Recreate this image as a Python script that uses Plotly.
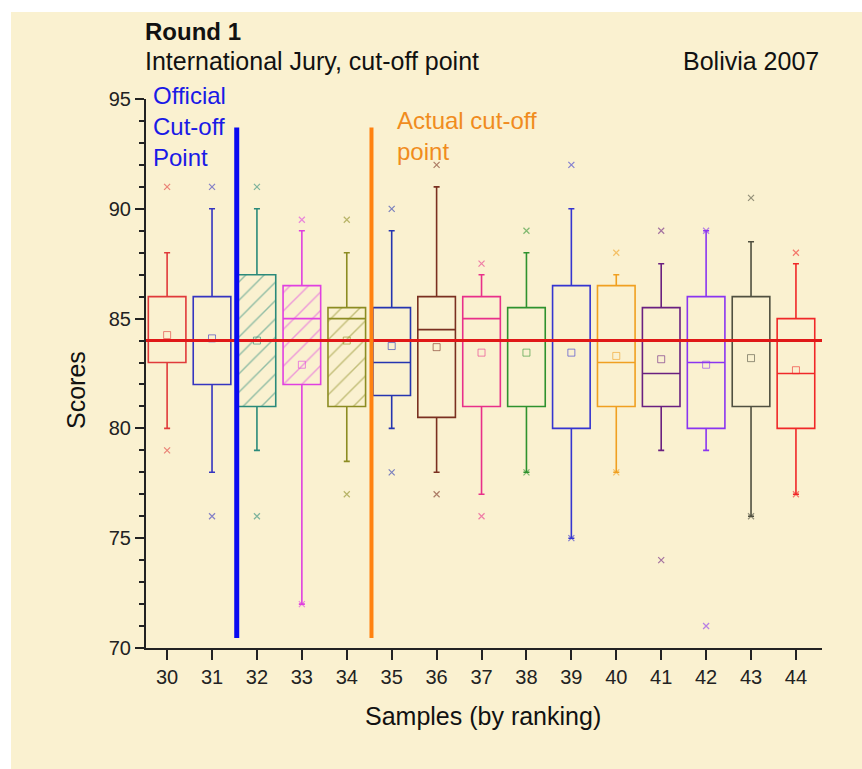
import plotly.graph_objects as go

# ---------------- data ----------------
samples = [30, 31, 32, 33, 34, 35, 36, 37, 38, 39, 40, 41, 42, 43, 44]
q1 = [83, 82, 81, 82, 81, 81.5, 80.5, 81, 81, 80, 81, 81, 80, 81, 80]
median = [84, 84, 84, 85, 85, 83, 84.5, 85, 84, 84, 83, 82.5, 83, 84, 82.5]
q3 = [86, 86, 87, 86.5, 85.5, 85.5, 86, 86, 85.5, 86.5, 86.5, 85.5, 86, 86, 85]
whisker_low = [80, 78, 79, 72, 78.5, 80, 78, 77, 78, 75, 78, 79, 79, 76, 77]
whisker_high = [88, 90, 90, 89, 88, 89, 91, 87, 88, 90, 87, 87.5, 89, 88.5, 87.5]
means = [84.25, 84.1, 84.0, 82.9, 84.0, 83.75, 83.7, 83.45, 83.45, 83.45, 83.3, 83.15, 82.9, 83.2, 82.65]
max_scores = [91, 91, 91, 89.5, 89.5, 90, 92, 87.5, 89, 92, 88, 89, 89, 90.5, 88]
min_scores = [79, 76, 76, 72, 77, 78, 77, 76, 78, 75, 78, 74, 71, 76, 77]
hatched = [32, 33, 34]

colors = ["#E03A3A", "#3535C0", "#2A8A7A", "#E040E0", "#8C8C22", "#2535B0",
          "#7A3020", "#E8308A", "#2E922E", "#3535D0", "#F0A020", "#6A2080",
          "#8A35F0", "#505040", "#F02828"]

overall_cutoff = 84
official_cut_x = 31.55
actual_cut_x = 34.55
cut_line_y = [70.45, 93.7]

x_range = [29.53, 44.58]
y_range = [70, 95]

CREAM = "#FAF1D0"
FONT = "Liberation Sans, Arial, sans-serif"
BOX_W = 0.837

fig = go.Figure()

# boxes
for i, s in enumerate(samples):
    c = colors[i]
    fig.add_trace(go.Box(
        x=[s], q1=[q1[i]], median=[median[i]], q3=[q3[i]],
        lowerfence=[whisker_low[i]], upperfence=[whisker_high[i]],
        width=BOX_W, whiskerwidth=0.16, boxpoints=False,
        line=dict(color=c, width=1.6), fillcolor="rgba(0,0,0,0)",
        showlegend=False, hoverinfo="skip"))

# hatched fill for some boxes
for i, s in enumerate(samples):
    if s in hatched:
        c = colors[i]
        fig.add_trace(go.Bar(
            x=[s], base=[q1[i]], y=[q3[i] - q1[i]], width=BOX_W,
            marker=dict(color="rgba(0,0,0,0)", line=dict(width=0),
                        pattern=dict(shape="/", fgcolor=c, bgcolor="rgba(0,0,0,0)",
                                     size=13, solidity=0.11)),
            showlegend=False, hoverinfo="skip"))

# mean squares and min/max crosses
for i, s in enumerate(samples):
    c = colors[i]
    fig.add_trace(go.Scatter(
        x=[s], y=[means[i]], mode="markers",
        marker=dict(symbol="square-open", size=7, color=c, opacity=0.6, line=dict(width=1)),
        showlegend=False, hoverinfo="skip"))
    fig.add_trace(go.Scatter(
        x=[s, s], y=[max_scores[i], min_scores[i]], mode="markers",
        marker=dict(symbol="x-thin-open", size=6, color=c, opacity=0.6, line=dict(width=1.2, color=c)),
        showlegend=False, hoverinfo="skip"))

# overall reference line
fig.add_trace(go.Scatter(
    x=x_range, y=[overall_cutoff, overall_cutoff], mode="lines",
    line=dict(color="#E01818", width=3), showlegend=False, hoverinfo="skip"))

# cut-off lines
fig.add_trace(go.Scatter(
    x=[official_cut_x, official_cut_x], y=cut_line_y, mode="lines",
    line=dict(color="#0A0AF0", width=5), showlegend=False, hoverinfo="skip"))
fig.add_trace(go.Scatter(
    x=[actual_cut_x, actual_cut_x], y=cut_line_y, mode="lines",
    line=dict(color="#FF8210", width=4), showlegend=False, hoverinfo="skip"))

PW, PH = 676, 549
L, T = 146, 99


def px(xp):
    return (xp - L) / PW


def py(yp):
    return (T + PH - yp) / PH


annotations = [
    dict(text="<b>Round 1</b>", x=px(143), y=py(31), xanchor="left", yanchor="middle",
         font=dict(size=24, color="#111")),
    dict(text="International Jury, cut-off point", x=px(143), y=py(61), xanchor="left",
         yanchor="middle", font=dict(size=25, color="#111")),
    dict(text="Bolivia 2007", x=px(821), y=py(61), xanchor="right", yanchor="middle",
         font=dict(size=25, color="#111")),
    dict(text="Official<br>Cut-off<br>Point", x=px(151), y=py(127), xanchor="left",
         yanchor="middle", align="left", font=dict(size=24, color="#1A1AE6")),
    dict(text="Actual cut-off<br>point", x=px(395), y=py(136), xanchor="left",
         yanchor="middle", align="left", font=dict(size=24, color="#F08C1E")),
    dict(text="Scores", x=px(76), y=py(390), xanchor="center", yanchor="middle",
         textangle=-90, font=dict(size=25, color="#111")),
    dict(text="Samples (by ranking)", x=px(483), y=py(716), xanchor="center",
         yanchor="middle", font=dict(size=25, color="#111")),
]
for a in annotations:
    a.update(xref="paper", yref="paper", showarrow=False)

fig.update_layout(
    width=862, height=769,
    margin=dict(l=L, r=862 - L - PW, t=T, b=769 - T - PH),
    paper_bgcolor="white", plot_bgcolor="rgba(0,0,0,0)",
    font=dict(family=FONT, color="#111"),
    boxmode="overlay", barmode="overlay",
    annotations=annotations,
    shapes=[dict(type="rect", xref="paper", yref="paper",
                 x0=px(11), x1=px(870), y0=py(780), y1=py(12),
                 fillcolor=CREAM, line=dict(width=0), layer="below")],
    hovermode=False,
)
fig.update_xaxes(range=x_range, tickvals=samples, ticktext=[str(s) for s in samples],
                 ticks="outside", ticklen=10, tickwidth=2, tickcolor="#222",
                 showline=True, linewidth=2, linecolor="#222", showgrid=False,
                 zeroline=False, tickfont=dict(size=20, color="#222"))
fig.update_yaxes(range=y_range, tick0=70, dtick=5, ticks="outside", ticklen=9, tickwidth=2,
                 tickcolor="#222", showline=True, linewidth=2, linecolor="#222",
                 showgrid=False, zeroline=False, tickfont=dict(size=20, color="#222"),
                 minor=dict(dtick=1, ticks="outside", ticklen=5, tickwidth=2, tickcolor="#222",
                            showgrid=False))

fig.write_html("out.html", config={"displayModeBar": False})
